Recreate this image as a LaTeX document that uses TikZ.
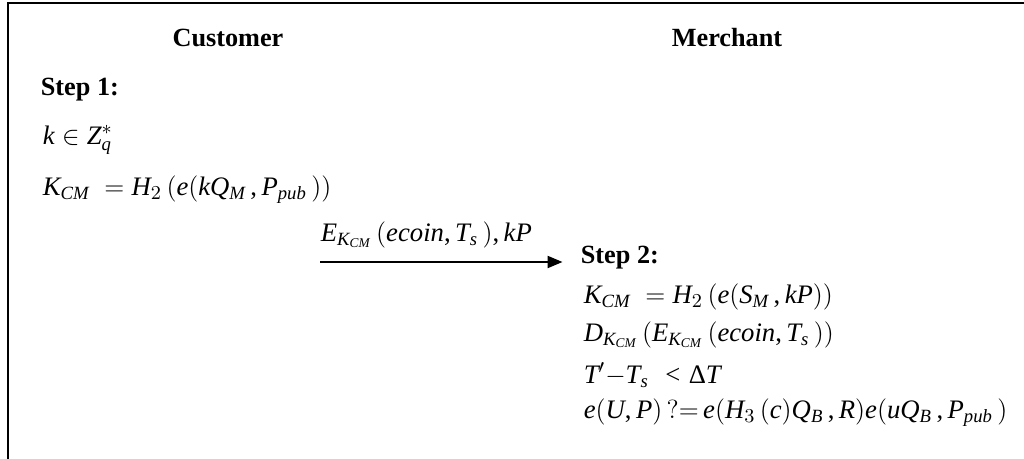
\documentclass[tikz,border=0pt]{standalone}
\usepackage{fontspec}
\setmainfont{Liberation Serif}
\edef\mainfam{\rmdefault}
\DeclareSymbolFont{letters}{TU}{\mainfam}{m}{it}
\DeclareMathSymbol{,}{\mathpunct}{operators}{"2C}
\usetikzlibrary{arrows.meta, positioning}
\tikzset{
  every picture/.style={line width=0.8pt},
  party/.style={font=\bfseries\fontsize{12}{14}\selectfont, anchor=center},
  steptitle/.style={font=\bfseries\fontsize{12}{14}\selectfont, anchor=west, inner sep=0pt},
  eqline/.style={font=\fontsize{12.2}{14}\selectfont, anchor=west, inner sep=0pt},
  arrow/.style={-{Triangle[length=6.8pt, width=5.5pt]}, line width=0.8pt},
  frame/.style={line width=0.9pt},
}
\begin{document}
\begin{tikzpicture}[x=0.01607cm, y=-0.01607cm]
  \useasboundingbox (0,0) rectangle (1024,459);
  % ---- frame (top and left edges) ----
  \draw[frame] (1024,3) -- (8,3) -- (8,459);
  % ---- parties ----
  \node[party] (cust) at (228,38) {Customer};
  \node[party] (merc) at (727,38) {Merchant};
  % ---- customer side ----
  \node[steptitle] (step1) at (40,90) {Step 1:};
  \node[eqline] (kgen) at (42,140) {$k \in Z_q^{*}$};
  \node[eqline] (kcm1) at (42,190) {$K_{CM}\; = H_2\,(e(kQ_M\,, P_{pub}\,))$};
  % ---- message ----
  \node[eqline] (msg) at (320,235) {$E_{K_{CM}}\,(ecoin, T_s\,), kP$};
  \coordinate (send) at (320,262);
  % ---- merchant side ----
  \node[steptitle] (step2) at (580,258) {Step 2:};
  \node[eqline] (kcm2) at (583,297) {$K_{CM}\; = H_2\,(e(S_M\,, kP))$};
  \node[eqline] (dec) at (583,335) {$D_{K_{CM}}\,(E_{K_{CM}}\,(ecoin, T_s\,))$};
  \node[eqline] (time) at (583,375) {$T'{-}T_s\; < \textrm{Δ}T$};
  \node[eqline] (check) at (583,413) {$e(U, P)\,{?}{=}\,e(H_3\,(c)Q_B\,, R)e(uQ_B\,, P_{pub}\,)$};
  \draw[arrow] (send) -- (send -| step2.west) [shorten >=8pt];
\end{tikzpicture}
\end{document}
